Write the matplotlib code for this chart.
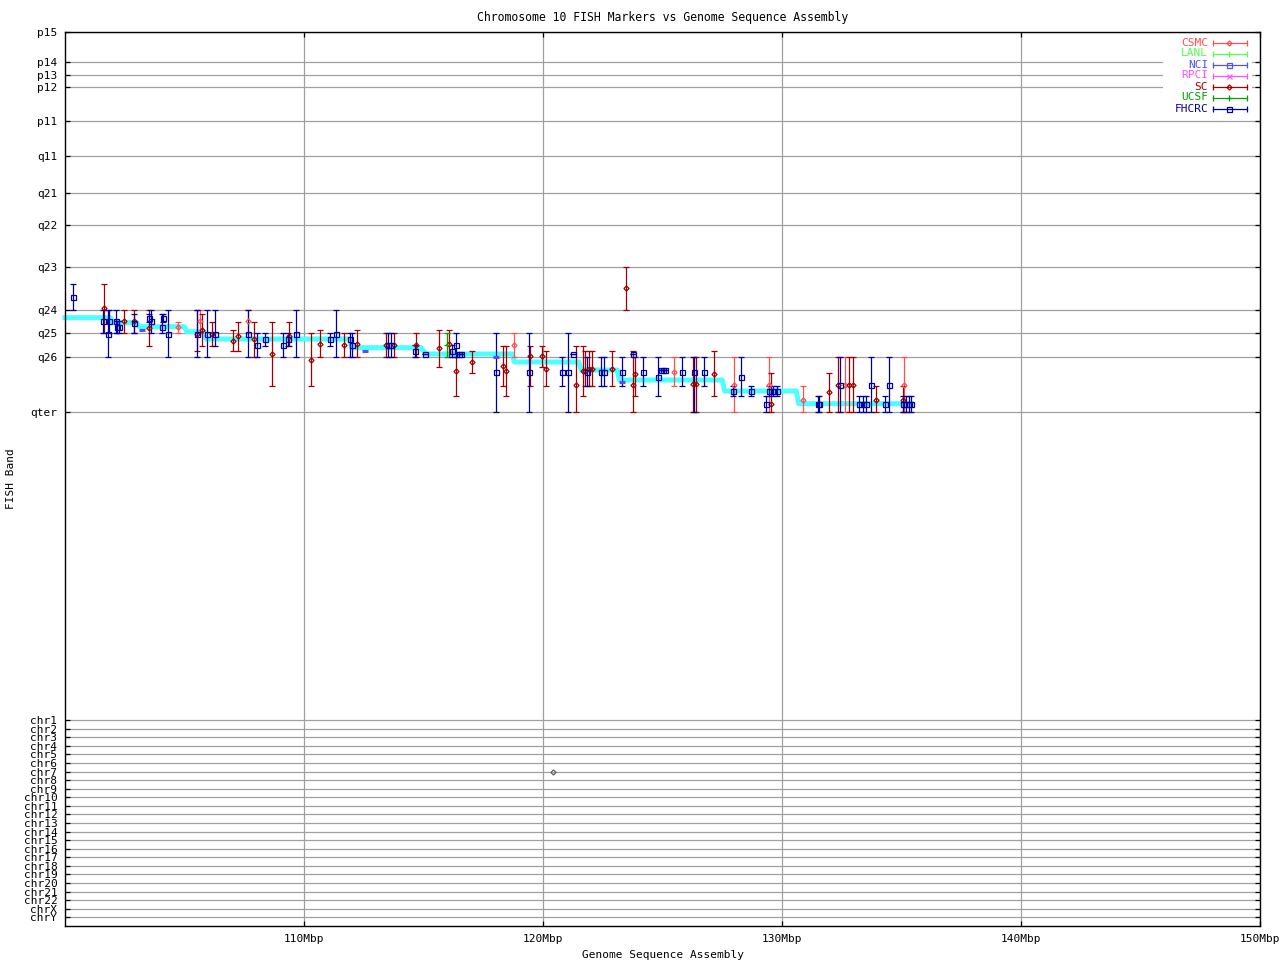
import matplotlib
matplotlib.use('Agg')
import matplotlib.pyplot as plt
from matplotlib.patches import Rectangle

plt.rcParams['font.family'] = ['DejaVu Sans Mono', 'DejaVu Sans']
plt.rcParams['font.size'] = 8

title = "Chromosome 10 FISH Markers vs Genome Sequence Assembly"
xlabel = "Genome Sequence Assembly"
ylabel = "FISH Band"

# ---- y axis: FISH bands (upper part) and other chromosomes (lower part) ----
band_labels = ['p15', 'p14', 'p13', 'p12', 'p11', 'q11', 'q21', 'q22', 'q23',
               'q24', 'q25', 'q26', 'qter']
band_pos = [0, 30, 43, 55, 89, 124, 161, 193, 235, 278, 301, 325, 380]
chr_labels = ['chr1', 'chr2', 'chr3', 'chr4', 'chr5', 'chr6', 'chr7', 'chr8',
              'chr9', 'chr10', 'chr11', 'chr12', 'chr13', 'chr14', 'chr15',
              'chr16', 'chr17', 'chr18', 'chr19', 'chr20', 'chr21', 'chr22',
              'chrX', 'chrY']
chr_pos = [688.0, 696.6, 705.2, 713.7, 722.3, 730.9, 739.5, 748.1, 756.6,
           765.2, 773.8, 782.4, 791.0, 799.5, 808.1, 816.7, 825.3, 833.9,
           842.4, 851.0, 859.6, 868.2, 876.8, 885.3]
y_range = (894, 0)

# ---- x axis ----
x_range = (100, 150)
x_ticks = [110, 120, 130, 140, 150]
x_tick_labels = ['110Mbp', '120Mbp', '130Mbp', '140Mbp', '150Mbp']

# ---- sequence assembly band assignment (cyan step line) ----
seq_start = [99.9, 102.0, 103.1, 105.1, 105.9, 112.0, 115.1, 118.8, 121.6, 123.2, 127.6, 130.7]
seq_end = [101.9, 103.0, 105.0, 105.8, 111.9, 114.9, 118.7, 121.5, 123.1, 127.5, 130.6, 135.5]
seq_band = [285.7, 290.7, 294.7, 299.7, 307.0, 315.7, 322.0, 330.0, 338.0, 348.0, 359.0, 371.7]

# ---- FHCRC ----
fhcrc_x = [100.35, 101.60, 101.79, 101.85, 102.12, 102.16, 102.26, 102.90, 103.53, 103.59,
           104.07, 104.11, 104.32, 105.54, 105.95, 106.29, 107.67, 108.02, 108.38, 109.13,
           109.34, 109.68, 111.10, 111.35, 111.94, 112.02, 113.50, 113.63, 114.66, 115.08,
           116.18, 116.37, 116.50, 116.57, 118.05, 119.43, 120.81, 121.06, 121.27, 121.84,
           122.44, 122.55, 123.32, 123.78, 124.20, 124.82, 124.94, 125.02, 125.10, 125.83,
           126.33, 126.75, 127.96, 128.30, 128.71, 129.35, 129.44, 129.62, 129.80, 131.52,
           131.56, 132.44, 133.23, 133.40, 133.53, 133.74, 134.32, 134.49, 135.06, 135.19,
           135.31, 135.40]
fhcrc_y = [265, 289, 302, 289, 289, 295, 295, 291, 286, 289,
           295, 286, 302, 302, 302, 302, 302, 313, 307, 313,
           307, 302, 307, 302, 307, 313, 313, 313, 319, 322,
           319, 313, 322, 322, 340, 340, 340, 340, 322, 340,
           340, 340, 340, 322, 340, 345, 338, 338, 338, 340,
           340, 340, 359, 345, 359, 372, 359, 359, 359, 372,
           372, 353, 372, 372, 372, 353, 372, 353, 372, 372,
           372, 372]
fhcrc_lo = [252, 278, 278, 278, 278, 289, 289, 282, 282, 278,
            282, 282, 278, 278, 278, 278, 278, 301, 301, 301,
            301, 278, 301, 278, 301, 301, 301, 301, 313, 322,
            313, 301, 322, 322, 301, 301, 325, 301, 322, 325,
            325, 325, 325, 322, 325, 325, 338, 338, 338, 325,
            325, 325, 354, 325, 354, 364, 354, 354, 354, 364,
            364, 325, 364, 364, 364, 325, 364, 325, 364, 364,
            364, 364]
fhcrc_hi = [278, 301, 325, 301, 301, 301, 301, 301, 290, 301,
            301, 290, 325, 325, 325, 314, 325, 325, 314, 325,
            314, 325, 314, 325, 325, 325, 325, 325, 325, 322,
            325, 325, 322, 322, 380, 380, 354, 380, 322, 354,
            354, 354, 354, 322, 354, 364, 338, 338, 338, 354,
            380, 354, 364, 364, 364, 380, 364, 364, 364, 380,
            380, 380, 380, 380, 380, 380, 380, 380, 380, 380,
            380, 380]

# ---- SC ----
sc_x = [101.64, 102.46, 102.90, 103.53, 105.54, 105.74, 106.14, 107.04, 107.25, 107.92,
        108.67, 109.38, 110.31, 110.68, 111.69, 112.23, 113.43, 113.78, 114.69, 115.66,
        116.08, 116.37, 117.02, 118.34, 118.46, 119.47, 119.97, 120.14, 121.37, 121.66,
        121.77, 121.94, 122.05, 122.90, 123.46, 123.78, 123.86, 126.29, 126.40, 127.17,
        129.53, 131.98, 132.36, 132.82, 132.98, 133.92, 135.05]
sc_y = [276, 289, 289, 296, 302, 298, 302, 309, 304, 307,
        322, 304, 328, 312, 313, 312, 313, 313, 313, 316,
        312, 339, 330, 334, 339, 324, 324, 337, 353, 339,
        339, 337, 337, 337, 256, 353, 342, 352, 352, 342,
        372, 360, 353, 353, 353, 368, 368]
sc_lo = [252, 278, 278, 278, 278, 282, 290, 298, 290, 290,
         290, 290, 301, 298, 301, 298, 301, 301, 301, 298,
         298, 325, 319, 314, 314, 314, 314, 319, 314, 314,
         319, 319, 319, 319, 235, 319, 325, 325, 325, 319,
         341, 341, 325, 325, 325, 354, 354]
sc_hi = [301, 301, 301, 314, 319, 314, 314, 319, 319, 325,
         354, 314, 354, 325, 325, 325, 325, 325, 325, 335,
         325, 364, 341, 354, 364, 354, 335, 354, 380, 364,
         354, 354, 354, 354, 278, 380, 364, 380, 380, 364,
         380, 380, 380, 380, 380, 380, 380]
# SC marker mapped to another chromosome (chr7)
sc_other_x = [120.42]
sc_other_y = [739.5]

# ---- CSMC ----
csmc_x = [104.74, 105.65, 107.67, 118.80, 125.49, 128.00, 129.47, 130.89, 132.65, 135.12]
csmc_y = [295, 289, 289, 313, 340, 353, 353, 368, 353, 353]
csmc_lo = [290, 278, 278, 301, 325, 325, 325, 354, 325, 325]
csmc_hi = [301, 301, 301, 325, 354, 380, 380, 380, 380, 380]

# ---- UCSF ----
ucsf_x = [115.98]
ucsf_y = [313]
ucsf_lo = [301]
ucsf_hi = [325]

# ---- NCI ----
nci_x = [103.22, 112.55, 118.05, 123.30]
nci_y = [298, 318.7, 324.7, 350]

# ---- legend ----
legend_names = ['CSMC', 'LANL', 'NCI', 'RPCI', 'SC', 'UCSF', 'FHCRC']
legend_colors = ['#ff5050', '#50ff50', '#5050ff', '#ff50ff', '#a00000', '#00a000', '#0000a0']
legend_markers = ['D', '+', 's', 'x', 'D', '+', 's']
legend_msize = [2.6, 4, 3.6, 3.6, 2.6, 4, 3.6]
col = dict(zip(legend_names, legend_colors))

fig = plt.figure(figsize=(12.8, 9.6), dpi=100)
ax = fig.add_axes([65 / 1280, 34 / 960, 1195 / 1280, 894 / 960])
ax.set_xlim(*x_range)
ax.set_ylim(*y_range)

ax.set_xticks(x_ticks)
ax.set_xticklabels(x_tick_labels)
ax.set_yticks(band_pos + chr_pos)
ax.set_yticklabels(band_labels + chr_labels)
ax.set_axisbelow(True)
ax.grid(True, color='#a0a0a0', lw=0.9)
ax.tick_params(direction='in', length=3.8, width=0.9, top=True, right=True,
               labelsize=8, colors='black')
ax.tick_params(axis='x', pad=6)
ax.tick_params(axis='y', pad=5.5)
for s in ax.spines.values():
    s.set_linewidth(1.0)
    s.set_color('black')

# cyan assembly line
sx, sy = [], []
for a, b, v in zip(seq_start, seq_end, seq_band):
    sx += [a, b]
    sy += [v, v]
ax.plot(sx, sy, color='#4dffff', lw=3.6, solid_capstyle='butt', zorder=2, clip_on=False)

ekw = dict(elinewidth=0.9, capsize=2.0, capthick=0.9, linestyle='none', zorder=3)


def draw(xs, ys, lo, hi, name, marker, ms, mfc='none'):
    yerr = [[y - l for y, l in zip(ys, lo)], [h - y for y, h in zip(ys, hi)]]
    ax.errorbar(xs, ys, yerr=yerr, fmt=marker, ms=ms, mfc=mfc, mec=col[name],
                mew=0.9, ecolor=col[name], **ekw)


draw(csmc_x, csmc_y, csmc_lo, csmc_hi, 'CSMC', 'D', 2.6)
draw(sc_x, sc_y, sc_lo, sc_hi, 'SC', 'D', 2.6)
draw(ucsf_x, ucsf_y, ucsf_lo, ucsf_hi, 'UCSF', '+', 4)
draw(fhcrc_x, fhcrc_y, fhcrc_lo, fhcrc_hi, 'FHCRC', 's', 3.6)
ax.plot(nci_x, nci_y, ls='none', marker='_', ms=4, mew=2.2, color=col['NCI'], zorder=3)
ax.plot(sc_other_x, sc_other_y, ls='none', marker='D', ms=2.6, mfc='none',
        mec='#606060', mew=0.9, zorder=3)

# legend (gnuplot style)
ax.add_patch(Rectangle((0.9192, 0.909), 0.0745, 0.088, transform=ax.transAxes,
                       facecolor='white', edgecolor='none', zorder=2.5))
for i, (n, c, m, s) in enumerate(zip(legend_names, legend_colors, legend_markers, legend_msize)):
    yf = 1 - (10.5 + 11 * i) / 894
    ax.text(0.9565, yf, n, color=c, ha='right', va='center', transform=ax.transAxes,
            fontsize=8, zorder=4)
    ax.plot([0.9607, 0.9891], [yf, yf], color=c, lw=0.9, transform=ax.transAxes,
            zorder=4, clip_on=False)
    ax.plot([0.9607, 0.9891], [yf, yf], ls='none', marker='|', ms=4.5, mew=0.9,
            color=c, transform=ax.transAxes, zorder=4, clip_on=False)
    ax.plot([0.9741], [yf], ls='none', marker=m, ms=s, mfc='none', mec=c, mew=0.9,
            transform=ax.transAxes, zorder=4, clip_on=False)

ax.set_title(title, fontsize=8.3, pad=8)
ax.set_xlabel(xlabel, fontsize=8, labelpad=4)
ax.set_ylabel(ylabel, fontsize=8)
ax.yaxis.set_label_coords(-0.041, 0.5)

fig.savefig('out.png', dpi=100)
